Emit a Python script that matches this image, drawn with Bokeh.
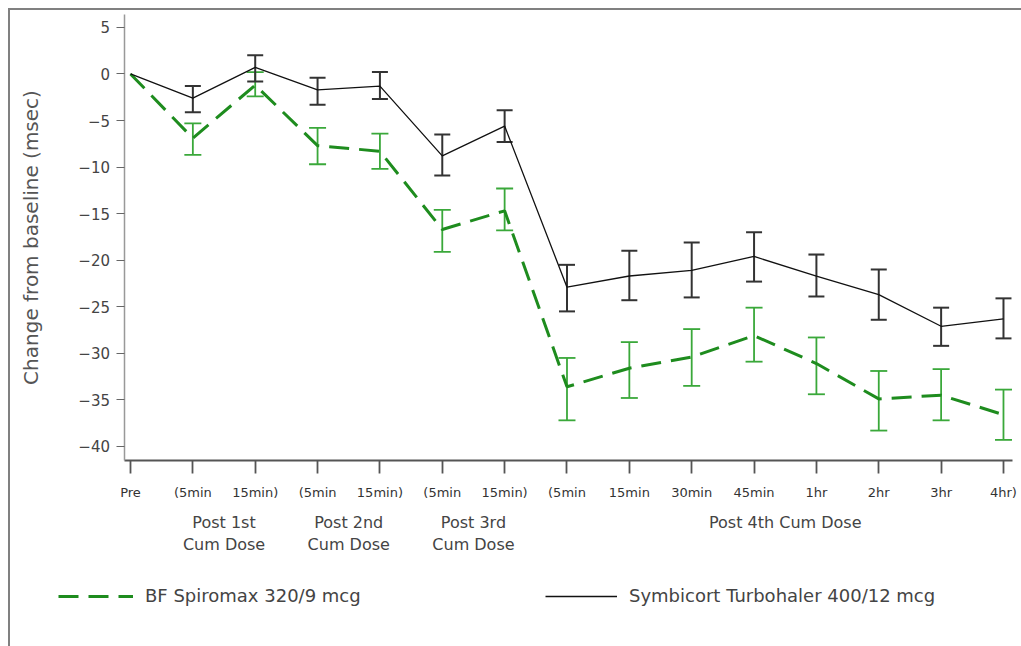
from bokeh.plotting import figure
from bokeh.layouts import column
from bokeh.models import (ColumnDataSource, Range1d, LinearAxis, FixedTicker, Whisker, TeeHead,
                          Legend, LegendItem)
from bokeh.embed import file_html
from bokeh.resources import INLINE

# ---- data ----
x_labels = ["Pre", "(5min", "15min)", "(5min", "15min)", "(5min", "15min)", "(5min", "15min",
            "30min", "45min", "1hr", "2hr", "3hr", "4hr)"]
group_positions = [1.5, 3.5, 5.5, 10.5]
group_labels = ["Post 1st\nCum Dose", "Post 2nd\nCum Dose", "Post 3rd\nCum Dose", "Post 4th Cum Dose"]
series_names = ["BF Spiromax 320/9 mcg", "Symbicort Turbohaler 400/12 mcg"]

spiromax_mean = [0, -6.9, -1.2, -7.7, -8.3, -16.7, -14.7, -33.6, -31.6, -30.4, -28.1, -31.1, -34.9, -34.5, -36.6]
spiromax_upper = [0, -5.3, 0.2, -5.8, -6.4, -14.6, -12.3, -30.5, -28.8, -27.4, -25.1, -28.3, -31.9, -31.7, -33.9]
spiromax_lower = [0, -8.7, -2.4, -9.7, -10.2, -19.1, -16.8, -37.2, -34.8, -33.5, -30.9, -34.4, -38.3, -37.2, -39.3]

symbicort_mean = [0, -2.6, 0.7, -1.7, -1.3, -8.8, -5.6, -22.9, -21.7, -21.1, -19.6, -21.7, -23.7, -27.1, -26.3]
symbicort_upper = [0, -1.3, 2.0, -0.4, 0.2, -6.5, -3.9, -20.5, -19.0, -18.1, -17.0, -19.4, -21.0, -25.1, -24.1]
symbicort_lower = [0, -4.1, -0.8, -3.3, -2.7, -10.9, -7.3, -25.5, -24.3, -24.0, -22.3, -23.9, -26.4, -29.2, -28.4]

y_ticks = [5, 0, -5, -10, -15, -20, -25, -30, -35, -40]
y_tick_labels = ["5", "0", "\u22125", "\u221210", "\u221215", "\u221220", "\u221225", "\u221230", "\u221235", "\u221240"]

FONT = "DejaVu Sans"
GREEN_LINE = "#1e8c1e"
GREEN_BAR = "#3aa83a"
BLACK_LINE = "#111111"
BLACK_BAR = "#333333"

xs = list(range(len(x_labels)))

# axis extents (data units)
X_AXIS_AT = -41.52
Y_AXIS_AT = -0.104
X_END = 14.144
Y_TOP = 6.34

# whole canvas is the frame; axes sit inside it at fixed locations
p = figure(width=1011, height=636, output_backend="svg", toolbar_location=None,
           x_range=Range1d(-1.9244, 14.289), y_range=Range1d(-61.49, 6.815),
           min_border=0, x_axis_type=None, y_axis_type=None)
p.outline_line_color = None
p.grid.visible = False
p.background_fill_color = "white"
p.border_fill_color = "white"

# y axis
yax = LinearAxis(ticker=FixedTicker(ticks=y_ticks), fixed_location=Y_AXIS_AT, bounds=(X_AXIS_AT, Y_TOP),
                 major_label_overrides={t: l for t, l in zip(y_ticks, y_tick_labels)})
yax.axis_label = "Change from baseline (msec)"
yax.axis_label_text_font = FONT
yax.axis_label_text_font_size = "20px"
yax.axis_label_text_font_style = "normal"
yax.axis_label_text_color = "#555555"
yax.axis_label_standoff = 33
yax.major_label_text_font = FONT
yax.major_label_text_font_size = "15px"
yax.major_label_text_color = "#444444"
yax.major_label_standoff = 6
yax.major_tick_out = 8
yax.major_tick_in = 0
yax.minor_tick_out = 0
yax.minor_tick_in = 0
yax.axis_line_color = "#999999"
yax.axis_line_width = 1.5
yax.major_tick_line_color = "#666666"
yax.major_tick_line_width = 1.2
p.add_layout(yax, "left")

# x axis (time points)
xax = LinearAxis(ticker=FixedTicker(ticks=xs), fixed_location=X_AXIS_AT, bounds=(Y_AXIS_AT, X_END),
                 major_label_overrides={i: l for i, l in enumerate(x_labels)})
xax.major_label_text_font = FONT
xax.major_label_text_font_size = "13px"
xax.major_label_text_color = "#333333"
xax.major_label_standoff = 11
xax.major_tick_out = 13
xax.major_tick_in = 0
xax.minor_tick_out = 0
xax.minor_tick_in = 0
xax.axis_line_color = "#555555"
xax.axis_line_width = 2
xax.major_tick_line_color = "#555555"
xax.major_tick_line_width = 1.8
p.add_layout(xax, "below")

# x axis (dose groups)
gax = LinearAxis(ticker=FixedTicker(ticks=group_positions), fixed_location=X_AXIS_AT,
                 major_label_overrides={pos: l for pos, l in zip(group_positions, group_labels)})
gax.major_label_text_font = FONT
gax.major_label_text_font_size = "16px"
gax.major_label_text_color = "#444444"
gax.major_label_standoff = 52
gax.major_tick_out = 0
gax.major_tick_in = 0
gax.minor_tick_out = 0
gax.minor_tick_in = 0
gax.axis_line_color = None
p.add_layout(gax, "below")

# error bars
sp_src = ColumnDataSource(dict(x=xs[1:], upper=spiromax_upper[1:], lower=spiromax_lower[1:]))
sy_src = ColumnDataSource(dict(x=xs[1:], upper=symbicort_upper[1:], lower=symbicort_lower[1:]))

w1 = Whisker(source=sp_src, base="x", upper="upper", lower="lower",
             line_color=GREEN_BAR, line_width=1.8,
             upper_head=TeeHead(size=17, line_color=GREEN_BAR, line_width=1.8),
             lower_head=TeeHead(size=17, line_color=GREEN_BAR, line_width=1.8))
p.add_layout(w1)

sp_line = p.line(xs, spiromax_mean, line_color=GREEN_LINE, line_width=3, line_dash="20 10")

w2 = Whisker(source=sy_src, base="x", upper="upper", lower="lower",
             line_color=BLACK_BAR, line_width=2,
             upper_head=TeeHead(size=16, line_color=BLACK_BAR, line_width=2),
             lower_head=TeeHead(size=16, line_color=BLACK_BAR, line_width=2))
p.add_layout(w2)

sy_line = p.line(xs, symbicort_mean, line_color=BLACK_LINE, line_width=1.3)


def add_legend(label, renderer, loc, gw):
    lg = Legend(items=[LegendItem(label=label, renderers=[renderer])], location=loc,
                orientation="horizontal", padding=0, margin=0, border_line_color=None,
                background_fill_alpha=0, glyph_width=gw, glyph_height=20, label_standoff=12,
                label_text_font=FONT, label_text_font_size="18px", label_text_color="#444444")
    p.add_layout(lg, "center")


add_legend(series_names[0], sp_line, (48, 40), 75)
add_legend(series_names[1], sy_line, (535, 40), 72)

layout = column(p, styles={"margin-left": "8px", "margin-top": "8px",
                           "border-left": "2px solid #808080", "border-top": "2px solid #808080"})

open("out.html", "w").write(file_html(layout, INLINE))
